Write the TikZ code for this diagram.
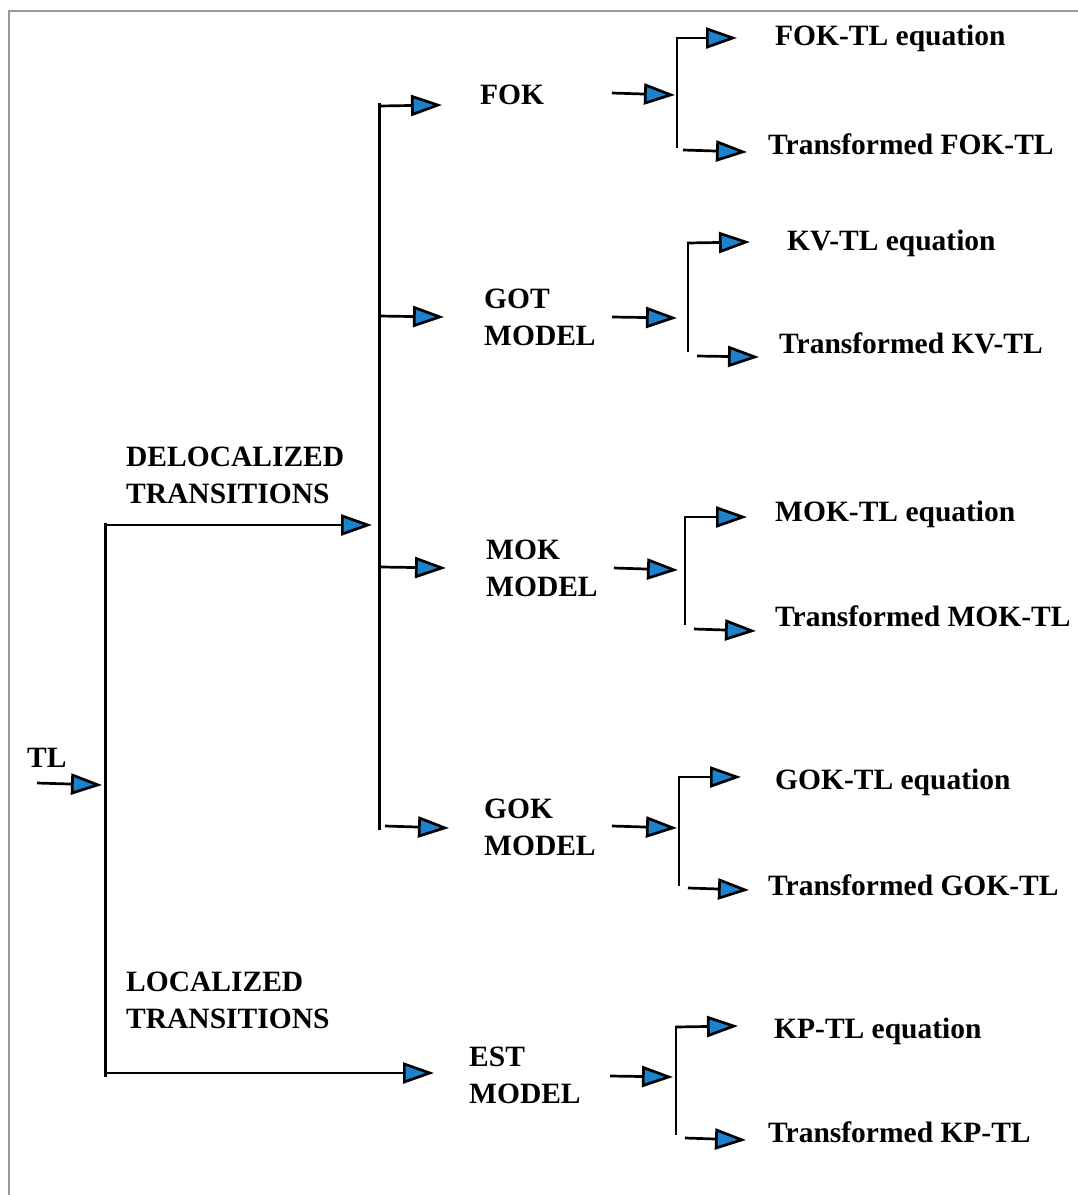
\documentclass[tikz,border=0pt]{standalone}
\usepackage{fontspec}
\setmainfont{Liberation Serif}
\usetikzlibrary{arrows.meta}
\definecolor{tipblue}{RGB}{28,130,205}
\begin{document}
\begin{tikzpicture}[x=1pt,y=-1pt,
  arr/.style={-{Triangle[length=31pt,width=21pt,fill=tipblue,line join=miter]}, line width=2.7pt, black},
  trunk/.style={line width=3pt, black},
  thin/.style={line width=1.8pt, black},
  lbl/.style={anchor=base west, inner sep=0pt, font=\fontsize{29.5}{36}\selectfont\bfseries, align=left},
  lbl2/.style={anchor=base west, inner sep=0pt, font=\fontsize{29.5}{37}\selectfont\bfseries, align=left}]
\useasboundingbox (0,0) rectangle (1078,1195);
\draw[gray!80, line width=1.3pt] (9,1195) -- (9,11) -- (1078,11);

% root
\node[lbl] (tl) at (27,767) {TL};
\coordinate (tls) at (37,783);
\coordinate (tle) at (102,785);
\draw[arr] (tls) -- (tle);

% main trunk
\coordinate (m1) at (105,523);
\coordinate (m2) at (105,1077);
\draw[trunk] (m1) -- (m2);
\coordinate (d0) at (105,525);
\coordinate (d1) at (372,525);
\draw[arr] (d0) -- (d1);
\coordinate (l0) at (105,1073);
\coordinate (l1) at (434,1073);
\draw[arr] (l0) -- (l1);
\node[lbl2] (deloc) at (126,503) {DELOCALIZED\\TRANSITIONS};
\node[lbl2] (loc) at (126,1028) {LOCALIZED\\TRANSITIONS};

% second trunk
\coordinate (s1) at (379,103);
\coordinate (s2) at (379,830);
\draw[trunk] (s1) -- (s2);
\coordinate (a0) at (379,106); \coordinate (a1) at (442,105);
\coordinate (b0) at (379,316); \coordinate (b1) at (444,317);
\coordinate (c0) at (381,567); \coordinate (c1) at (446,568);
\coordinate (e0) at (385,826); \coordinate (e1) at (449,828);
\draw[arr] (a0) -- (a1);
\draw[arr] (b0) -- (b1);
\draw[arr] (c0) -- (c1);
\draw[arr] (e0) -- (e1);

\node[lbl] (fok) at (480,104) {FOK};
\node[lbl2] (got) at (484,345) {GOT\\MODEL};
\node[lbl2] (mok) at (486,596) {MOK\\MODEL};
\node[lbl2] (gok) at (484,855) {GOK\\MODEL};
\node[lbl2] (est) at (469,1103) {EST\\MODEL};

% third level: FOK
\coordinate (f0) at (612,93); \coordinate (f1) at (675,95);
\draw[arr] (f0) -- (f1);
\coordinate (fv1) at (677,38); \coordinate (fv2) at (677,148);
\draw[thin] (fv1) -- (fv2);
\coordinate (ft0) at (676,38); \coordinate (ft1) at (737,38);
\coordinate (fb0) at (683,150); \coordinate (fb1) at (747,152);
\draw[arr] (ft0) -- (ft1);
\draw[arr] (fb0) -- (fb1);
\node[lbl] (fokeq) at (775,45) {FOK-TL equation};
\node[lbl] (foktr) at (768,154) {Transformed FOK-TL};

% GOT
\coordinate (g0) at (612,317); \coordinate (g1) at (677,318);
\draw[arr] (g0) -- (g1);
\coordinate (gv1) at (688,243); \coordinate (gv2) at (688,352);
\draw[thin] (gv1) -- (gv2);
\coordinate (gt0) at (687,243); \coordinate (gt1) at (750,242);
\coordinate (gb0) at (697,356); \coordinate (gb1) at (759,357);
\draw[arr] (gt0) -- (gt1);
\draw[arr] (gb0) -- (gb1);
\node[lbl] (kveq) at (787,250) {KV-TL equation};
\node[lbl] (kvtr) at (779,353) {Transformed KV-TL};

% MOK
\coordinate (h0) at (614,568); \coordinate (h1) at (678,570);
\draw[arr] (h0) -- (h1);
\coordinate (hv1) at (685,517); \coordinate (hv2) at (685,625);
\draw[thin] (hv1) -- (hv2);
\coordinate (ht0) at (684,517); \coordinate (ht1) at (747,517);
\coordinate (hb0) at (694,629); \coordinate (hb1) at (756,631);
\draw[arr] (ht0) -- (ht1);
\draw[arr] (hb0) -- (hb1);
\node[lbl] (mokeq) at (775,521) {MOK-TL equation};
\node[lbl] (moktr) at (775,626) {Transformed MOK-TL};

% GOK
\coordinate (k0) at (612,826); \coordinate (k1) at (677,828);
\draw[arr] (k0) -- (k1);
\coordinate (kv1) at (679,777); \coordinate (kv2) at (679,886);
\draw[thin] (kv1) -- (kv2);
\coordinate (kt0) at (678,777); \coordinate (kt1) at (741,777);
\coordinate (kb0) at (688,888); \coordinate (kb1) at (749,890);
\draw[arr] (kt0) -- (kt1);
\draw[arr] (kb0) -- (kb1);
\node[lbl] (gokeq) at (775,789) {GOK-TL equation};
\node[lbl] (goktr) at (768,895) {Transformed GOK-TL};

% EST
\coordinate (p0) at (610,1076); \coordinate (p1) at (673,1077);
\draw[arr] (p0) -- (p1);
\coordinate (pv1) at (676,1027); \coordinate (pv2) at (676,1135);
\draw[thin] (pv1) -- (pv2);
\coordinate (pt0) at (675,1027); \coordinate (pt1) at (738,1026);
\coordinate (pb0) at (685,1138); \coordinate (pb1) at (746,1140);
\draw[arr] (pt0) -- (pt1);
\draw[arr] (pb0) -- (pb1);
\node[lbl] (kpeq) at (774,1038) {KP-TL equation};
\node[lbl] (kptr) at (768,1142) {Transformed KP-TL};
\end{tikzpicture}
\end{document}
